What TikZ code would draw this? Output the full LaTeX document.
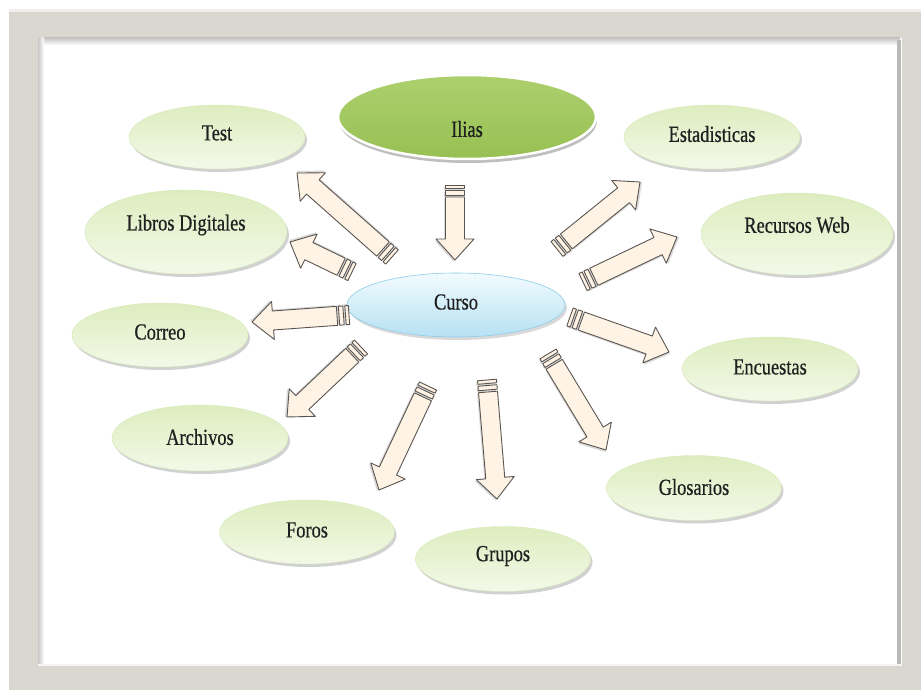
\documentclass[tikz,border=0pt]{standalone}
\usepackage{fontspec}
\setmainfont{Liberation Serif}[FakeStretch=0.8,FakeBold=0.6]
\usetikzlibrary{shapes.geometric,shadows,calc}
\definecolor{framegray}{HTML}{DAD7D0}
\definecolor{leaftop}{HTML}{DDEDBF}
\definecolor{leafbot}{HTML}{F3F9E8}
\definecolor{leafedge}{HTML}{D8E9B8}
\definecolor{iliastop}{HTML}{ADD06E}
\definecolor{iliasbot}{HTML}{97C053}
\definecolor{cursotop}{HTML}{F2FBFE}
\definecolor{cursobot}{HTML}{B6E1F3}
\definecolor{cursoedge}{HTML}{8FCDE8}
\definecolor{arrowfill}{HTML}{FEF3E5}
\definecolor{arrowedge}{HTML}{5A5550}
\definecolor{txt}{HTML}{202020}
\tikzset{
  lt/.style={font=\fontsize{23}{27}\selectfont, text=txt, inner sep=0pt},
  leaf/.style={ellipse, inner sep=0pt, top color=leaftop, bottom color=leafbot,
    draw=leafedge, line width=0.4pt,
    drop shadow={shadow xshift=2pt, shadow yshift=-3pt, opacity=0.18, fill=black}},
  rootnode/.style={ellipse, inner sep=0pt, top color=iliastop, bottom color=iliasbot,
    draw=white, line width=2.5pt,
    drop shadow={shadow xshift=1pt, shadow yshift=-4pt, opacity=0.25, fill=black}},
  hubnode/.style={ellipse, inner sep=0pt, top color=cursotop, bottom color=cursobot,
    draw=cursoedge, line width=0.6pt,
    drop shadow={shadow xshift=2pt, shadow yshift=-3pt, opacity=0.15, fill=black}},
  arrowbody/.style={fill=arrowfill, draw=arrowedge, line width=0.9pt, line join=round},
  arrowshade/.style={fill=black, opacity=0.15},
}
\newcommand\stripedarrow[2]{%
  \path let \p1=($(#2)-(#1)$) in \pgfextra{%
    \pgfmathsetmacro\tmpang{atan2(\y1,\x1)}\xdef\sarang{\tmpang}%
    \pgfmathsetmacro\tmplen{veclen(\x1,\y1)}\xdef\sarlen{\tmplen}};
  \begin{scope}[shift={(#1)},rotate=\sarang]
    \begin{scope}[xshift=1.5pt,yshift=-1.5pt]
      \fill[arrowshade] (0,-9.5) rectangle (3.5,9.5);
      \fill[arrowshade] (5.5,-9.5) rectangle (10,9.5);
      \fill[arrowshade] (12,-9.5) -- (\sarlen-21,-9.5) -- (\sarlen-21,-19) -- (\sarlen,0)
        -- (\sarlen-21,19) -- (\sarlen-21,9.5) -- (12,9.5) -- cycle;
    \end{scope}
    \filldraw[arrowbody] (0,-9.5) rectangle (3.5,9.5);
    \filldraw[arrowbody] (5.5,-9.5) rectangle (10,9.5);
    \filldraw[arrowbody] (12,-9.5) -- (\sarlen-21,-9.5) -- (\sarlen-21,-19) -- (\sarlen,0)
      -- (\sarlen-21,19) -- (\sarlen-21,9.5) -- (12,9.5) -- cycle;
  \end{scope}}
\begin{document}
\begin{tikzpicture}[x=1pt,y=-1pt]
\useasboundingbox (0,0) rectangle (921,690);
% frame
\fill[white] (0,0) rectangle (921,690);
\fill[framegray] (9,9) rectangle (921,690);
\fill[white!60!framegray] (9,9) rectangle (921,12);
\fill[white] (38,38) rectangle (902,665);
\shade[top color=gray!45, bottom color=white] (38,38) rectangle (900,45);
\shade[left color=gray!45, right color=white] (38,38) rectangle (44,665);
\fill[gray!55] (897,40) rectangle (901,664);
\fill[white!70!framegray] (38,664) rectangle (902,666);

% nodes
\node[rootnode, minimum width=258pt, minimum height=84pt,
  label={[lt,yshift=-12pt]center:Ilias}] (ilias) at (467,117) {};
\node[hubnode, minimum width=218pt, minimum height=64pt,
  label={[lt,yshift=3pt]center:Curso}] (curso) at (456,305) {};
\node[leaf, minimum width=176pt, minimum height=64pt,
  label={[lt,yshift=4pt]center:Test}] (test) at (217,137) {};
\node[leaf, minimum width=202pt, minimum height=84pt,
  label={[lt,yshift=7pt]center:Libros Digitales}] (libros) at (186,232) {};
\node[leaf, minimum width=176pt, minimum height=64pt,
  label={[lt,yshift=3pt]center:Correo}] (correo) at (160,335) {};
\node[leaf, minimum width=176pt, minimum height=66pt,
  label={[lt,yshift=1pt]center:Archivos}] (archivos) at (200,438) {};
\node[leaf, minimum width=175pt, minimum height=64pt,
  label={[lt,yshift=2pt]center:Foros}] (foros) at (307,532) {};
\node[leaf, minimum width=175pt, minimum height=65pt,
  label={[lt,yshift=3pt]center:Grupos}] (grupos) at (503,559) {};
\node[leaf, minimum width=175pt, minimum height=65pt,
  label={[lt,yshift=1pt]center:Glosarios}] (glosarios) at (694,488) {};
\node[leaf, minimum width=176pt, minimum height=64pt,
  label={[lt,yshift=2pt]center:Encuestas}] (encuestas) at (770,369) {};
\node[leaf, minimum width=192pt, minimum height=82pt,
  label={[lt,yshift=9pt]center:Recursos Web}] (recursos) at (797,234) {};
\node[leaf, minimum width=176pt, minimum height=64pt,
  label={[lt,yshift=3pt]center:Estadisticas}] (estadisticas) at (712,137) {};

% arrow ends
\coordinate (s1) at (455,185);  \coordinate (e1) at (455,260);
\coordinate (s2) at (392,257);  \coordinate (e2) at (297,173);
\coordinate (s3) at (352,272);  \coordinate (e3) at (290,242);
\coordinate (s4) at (349,315);  \coordinate (e4) at (252,322);
\coordinate (s5) at (361,347);  \coordinate (e5) at (287,417);
\coordinate (s6) at (428,386);  \coordinate (e6) at (379,490);
\coordinate (s7) at (487,380);  \coordinate (e7) at (497,499);
\coordinate (s8) at (548,354);  \coordinate (e8) at (606,450);
\coordinate (s9) at (570,317);  \coordinate (e9) at (669,352);
\coordinate (s10) at (583,282); \coordinate (e10) at (677,237);
\coordinate (s11) at (557,249); \coordinate (e11) at (640,182);

\stripedarrow{s1}{e1}
\stripedarrow{s2}{e2}
\stripedarrow{s3}{e3}
\stripedarrow{s4}{e4}
\stripedarrow{s5}{e5}
\stripedarrow{s6}{e6}
\stripedarrow{s7}{e7}
\stripedarrow{s8}{e8}
\stripedarrow{s9}{e9}
\stripedarrow{s10}{e10}
\stripedarrow{s11}{e11}
\end{tikzpicture}
\end{document}
